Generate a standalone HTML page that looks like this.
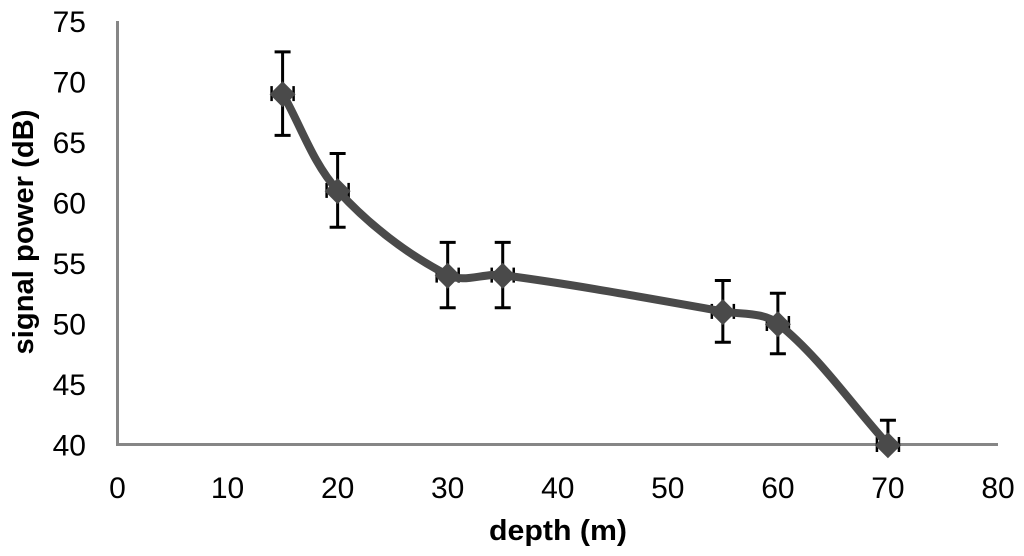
<!DOCTYPE html>
<html lang="en">
<head>
<meta charset="utf-8">
<title>Signal power vs depth</title>
<style>
html,body{margin:0;padding:0;background:#fff;}
svg{display:block;}
text{font-family:"Liberation Sans",sans-serif;fill:#000;}
</style>
</head>
<body>
<svg id="chart" xmlns="http://www.w3.org/2000/svg" width="1024" height="556" viewBox="0 0 1024 556"></svg>
<script>
const depths = [15, 20, 30, 35, 55, 60, 70];
const signalPower = [69, 61, 54, 54, 51, 50, 40];
const yErrors = [3.45, 3.05, 2.7, 2.7, 2.55, 2.5, 2];
const xErrors = [1, 1, 1, 1, 1, 1, 1];
const xTicks = [0, 10, 20, 30, 40, 50, 60, 70, 80];
const yTicks = [40, 45, 50, 55, 60, 65, 70, 75];
const xTitle = 'depth (m)';
const yTitle = 'signal power (dB)';

const svg = document.getElementById('chart');
const NS = 'http://www.w3.org/2000/svg';
const xScale = v => 117.5 + (v - 0) * (998 - 117.5) / 80;
const yScale = v => 444.5 - (v - 40) * (444.5 - 21) / 35;

function add(tag, attrs, parent, text) {
  const el = document.createElementNS(NS, tag);
  for (const k in attrs) el.setAttribute(k, attrs[k]);
  if (text !== undefined) el.textContent = text;
  (parent || svg).appendChild(el);
  return el;
}

// axes
const xAxis = add('line', {x1: xScale(0) - 1.5, y1: yScale(40), x2: xScale(80), y2: yScale(40), stroke: '#868686', 'stroke-width': 3});


const yAxis = add('line', {x1: xScale(0), y1: yScale(75), x2: xScale(0), y2: yScale(40), stroke: '#868686', 'stroke-width': 3});



// tick labels
xTicks.forEach(t => {
  const el = add('text', {x: xScale(t), y: 498, 'text-anchor': 'middle', 'font-size': 30}, svg, String(t));
  
  
});
yTicks.forEach(t => {
  const el = add('text', {x: 86, y: yScale(t) + 11, 'text-anchor': 'end', 'font-size': 30}, svg, String(t));
  
  
});

// axis titles
const xt = add('text', {x: 558, y: 540, 'text-anchor': 'middle', 'font-size': 29, 'font-weight': 'bold', textLength: 138, lengthAdjust: 'spacingAndGlyphs'}, svg, xTitle);


const yt = add('text', {transform: 'translate(33 232) rotate(-90)', 'text-anchor': 'middle', 'font-size': 29, 'font-weight': 'bold', textLength: 245, lengthAdjust: 'spacingAndGlyphs'}, svg, yTitle);



// error bars (the lower whisker is clipped at the axis minimum)
depths.forEach((d, i) => {
  const g = add('g', {stroke: '#000', 'stroke-width': 3, fill: 'none'});
  
  
  const cx = xScale(d), cy = yScale(signalPower[i]);
  const low = signalPower[i] - yErrors[i];
  const top = yScale(signalPower[i] + yErrors[i]), bot = yScale(Math.max(low, 40));
  const lx = xScale(d - xErrors[i]), rx = xScale(d + xErrors[i]);
  add('line', {x1: cx, y1: top, x2: cx, y2: bot}, g);
  add('line', {x1: cx - 8, y1: top, x2: cx + 8, y2: top}, g);
  if (low >= 40) add('line', {x1: cx - 8, y1: bot, x2: cx + 8, y2: bot}, g);
  add('line', {x1: lx, y1: cy, x2: rx, y2: cy, 'stroke-width': 2.5}, g);
  add('line', {x1: lx, y1: cy - 7.5, x2: lx, y2: cy + 7.5, 'stroke-width': 2.5}, g);
  add('line', {x1: rx, y1: cy - 7.5, x2: rx, y2: cy + 7.5, 'stroke-width': 2.5}, g);
});

// smoothed series line
const pts = depths.map((d, i) => [xScale(d), yScale(signalPower[i])]);
let path = 'M' + pts[0][0] + ' ' + pts[0][1];
for (let i = 0; i < pts.length - 1; i++) {
  const p0 = pts[Math.max(i - 1, 0)], p1 = pts[i], p2 = pts[i + 1], p3 = pts[Math.min(i + 2, pts.length - 1)];
  const seg = Math.hypot(p2[0] - p1[0], p2[1] - p1[1]);
  const d1 = Math.hypot(p2[0] - p0[0], p2[1] - p0[1]) || 1;
  const d2 = Math.hypot(p3[0] - p1[0], p3[1] - p1[1]) || 1;
  const k = 0.33;
  const c1 = [p1[0] + (p2[0] - p0[0]) / d1 * seg * k, p1[1] + (p2[1] - p0[1]) / d1 * seg * k];
  const c2 = [p2[0] - (p3[0] - p1[0]) / d2 * seg * k, p2[1] - (p3[1] - p1[1]) / d2 * seg * k];
  path += ' C' + c1[0] + ' ' + c1[1] + ' ' + c2[0] + ' ' + c2[1] + ' ' + p2[0] + ' ' + p2[1];
}
const line = add('path', {d: path, fill: 'none', stroke: '#4a4a4a', 'stroke-width': 8, 'stroke-linejoin': 'round'});



// diamond markers
depths.forEach((d, i) => {
  const cx = xScale(d), cy = yScale(signalPower[i]) + 0.7, r = 13;
  const m = add('polygon', {points: [cx, cy - r, cx + r, cy, cx, cy + r, cx - r, cy].join(' '), fill: '#4a4a4a'});
  
  
});
</script>
</body>
</html>
